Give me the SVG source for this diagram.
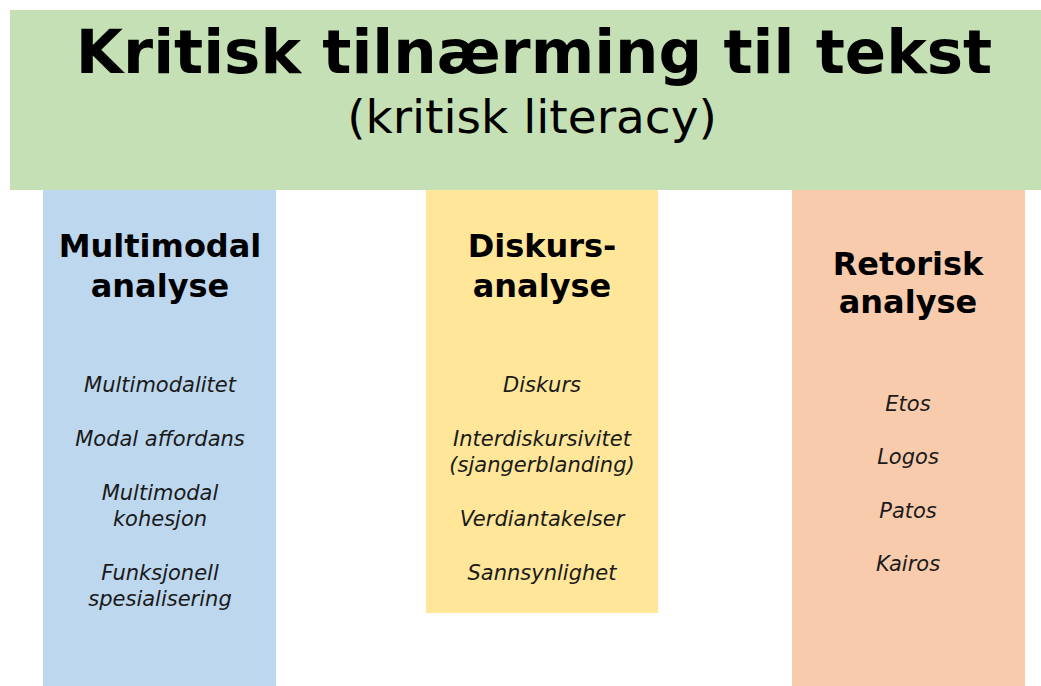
<svg xmlns="http://www.w3.org/2000/svg" width="1041" height="686" viewBox="0 0 1041 686">
  <style>
    .title { font-family: "DejaVu Sans", Verdana, sans-serif; font-weight: bold; font-size: 61px; fill: #000; text-anchor: middle; }
    .sub { font-family: "DejaVu Sans", Verdana, sans-serif; font-size: 47px; fill: #000; text-anchor: middle; }
    .head { font-family: "DejaVu Sans", Verdana, sans-serif; font-weight: bold; font-size: 32px; fill: #000; text-anchor: middle; }
    .item { font-family: "DejaVu Sans", Verdana, sans-serif; font-style: italic; font-size: 21px; fill: #1a1a1a; text-anchor: middle; }
  </style>
  <rect width="1041" height="686" fill="#ffffff"/>

  <g id="header">
    <rect x="10" y="10" width="1031" height="180" fill="#C5E0B4"/>
    <text class="title" x="534" y="73">Kritisk tilnærming til tekst</text>
    <text class="sub" x="532" y="133">(kritisk literacy)</text>
  </g>

  <g id="multimodal">
    <rect x="43" y="190" width="233" height="496" fill="#BDD7EE"/>
    <text class="head" x="160" y="257">Multimodal</text>
    <text class="head" x="160" y="297">analyse</text>
    <text class="item" x="160" y="392">Multimodalitet</text>
    <text class="item" x="160" y="446">Modal affordans</text>
    <text class="item" x="160" y="500">Multimodal</text>
    <text class="item" x="160" y="526">kohesjon</text>
    <text class="item" x="160" y="580">Funksjonell</text>
    <text class="item" x="160" y="606">spesialisering</text>
  </g>

  <g id="diskurs">
    <rect x="426" y="190" width="232" height="423" fill="#FFE699"/>
    <text class="head" x="542" y="257">Diskurs-</text>
    <text class="head" x="542" y="297">analyse</text>
    <text class="item" x="542" y="392">Diskurs</text>
    <text class="item" x="542" y="446">Interdiskursivitet</text>
    <text class="item" x="542" y="472">(sjangerblanding)</text>
    <text class="item" x="542" y="526">Verdiantakelser</text>
    <text class="item" x="542" y="580">Sannsynlighet</text>
  </g>

  <g id="retorisk">
    <rect x="792" y="190" width="233" height="496" fill="#F8CBAD"/>
    <text class="head" x="908" y="275">Retorisk</text>
    <text class="head" x="908" y="313">analyse</text>
    <text class="item" x="908" y="411">Etos</text>
    <text class="item" x="908" y="464">Logos</text>
    <text class="item" x="908" y="518">Patos</text>
    <text class="item" x="908" y="571">Kairos</text>
  </g>

  <g id="connectors"></g>
</svg>
